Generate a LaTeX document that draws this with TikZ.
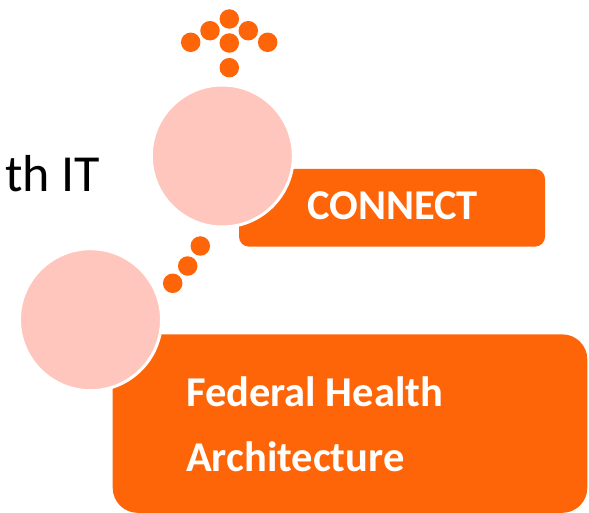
\documentclass[tikz,border=0pt]{standalone}
\usepackage{fontspec}
\setmainfont{Carlito}
\definecolor{fhaorange}{RGB}{253,101,8}
\definecolor{fhapink}{RGB}{255,198,189}

\begin{document}
\begin{tikzpicture}[x=1pt,y=-1pt]
  \tikzset{orangebox/.style={fill=fhaorange,rounded corners=#1,inner sep=0pt},
           pinkball/.style={circle,fill=fhapink,draw=white,line width=3pt,minimum size=142pt,inner sep=0pt},
           orangedot/.style={circle,fill=fhaorange,minimum size=19.5pt,inner sep=0pt},
           boxtext/.style={text=white,font=\bfseries\fontsize{42.5}{50}\selectfont,anchor=base west,inner sep=0pt}}
  \useasboundingbox (0,0) rectangle (589,513);

  \node[orangebox=10pt,minimum width=306pt,minimum height=77.7pt] (connectbox) at (392,207.8) {};
  \node[orangebox=25pt,minimum width=474.6pt,minimum height=178.5pt] (fhabox) at (350,423.6) {};

  \node[pinkball] (topball) at (222.3,156) {};
  \node[pinkball] (lowball) at (90.5,319.7) {};

  % arrow of dots and the trail between the balls
  \foreach \px/\py [count=\i] in {229.3/19, 210/30.7, 248.3/30.7, 190.7/42.3, 229.3/43,
                                  267.7/42.3, 229.3/67.7, 200.3/246, 187.7/266, 172.7/283.3}
    \node[orangedot] (dot\i) at (\px,\py) {};

  \node[font=\fontsize{52}{60}\selectfont,anchor=base west,inner sep=0pt] (healthit) at (5,191.7) {th IT};
  \node[boxtext] (connecttext) at (307,220) {CONNECT};
  \node[boxtext] (fedtext) at (186,406) {Federal Health};
  \node[boxtext] (archtext) at (186,471.7) {Architecture};
\end{tikzpicture}
\end{document}
